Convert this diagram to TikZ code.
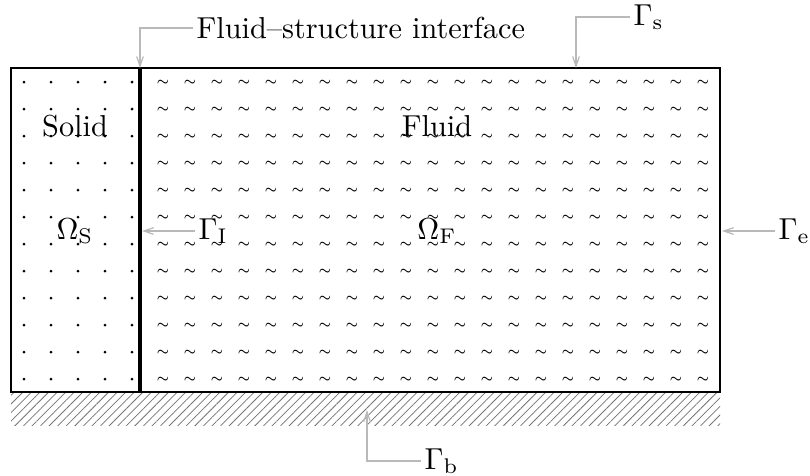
\documentclass[tikz,border=0pt]{standalone}
\usepackage{amsmath}
\usetikzlibrary{patterns.meta,arrows.meta}

\begin{document}
\begin{tikzpicture}[x=0.33pt, y=-0.33pt, >={Straight Barb[length=3.2pt,width=2.2pt]},
  leader/.style={gray!55, line width=0.4pt},
  lbl/.style={inner sep=1pt}]
\useasboundingbox (0,0) rectangle (810,475);
% rigid bed under the domain
\fill[pattern={Lines[angle=45,distance=2pt,line width=0.25pt]}, pattern color=black!55] (11,392) rectangle (720,425);
% solid particles
\foreach \i in {0,...,4}
  \foreach \j in {0,...,11}
    \fill (24+27*\i, 82+27*\j) circle[radius=0.5pt];
% fluid marks
\foreach \i in {0,...,20}
  \foreach \j in {0,...,11}
    \node[inner sep=0pt, scale=0.45] at (163+27*\i, 83+27*\j) {$\boldsymbol{\sim}$};
% outer boundary and interface
\draw[line width=0.8pt] (11,68) rectangle (720,392);
\draw[line width=1.3pt] (140,68) -- (140,392);
% region labels
\node (solid) at (75,126) {Solid};
\node (fluid) at (437,126) {Fluid};
\node (omS) at (75,231) {$\Omega_{\mathrm{S}}$};
\node (omF) at (437,231) {$\Omega_{\mathrm{F}}$};
% boundary labels
\node[lbl, anchor=west] (fsi) at (193,28) {Fluid--structure interface};
\node[lbl, anchor=west] (gS) at (630,17) {$\Gamma_{\mathrm{s}}$};
\node[lbl, anchor=west] (gI) at (195,231) {$\Gamma_{\mathrm{I}}$};
\node[lbl, anchor=west] (gE) at (775,231) {$\Gamma_{\mathrm{e}}$};
\node[lbl, anchor=west] (gB) at (421,461) {$\Gamma_{\mathrm{b}}$};
% leader lines
\coordinate (pFsi) at (140,68);
\coordinate (pS) at (576,68);
\coordinate (pI) at (142,231);
\coordinate (pE) at (722,231);
\coordinate (pB) at (367,410);
\draw[leader,->] (fsi.west) -| (pFsi);
\draw[leader,->] (gS.west) -| (pS);
\draw[leader,->] (gI.west) -- (pI);
\draw[leader,->] (gE.west) -- (pE);
\draw[leader,->] (gB.west) -| (pB);
\end{tikzpicture}
\end{document}
